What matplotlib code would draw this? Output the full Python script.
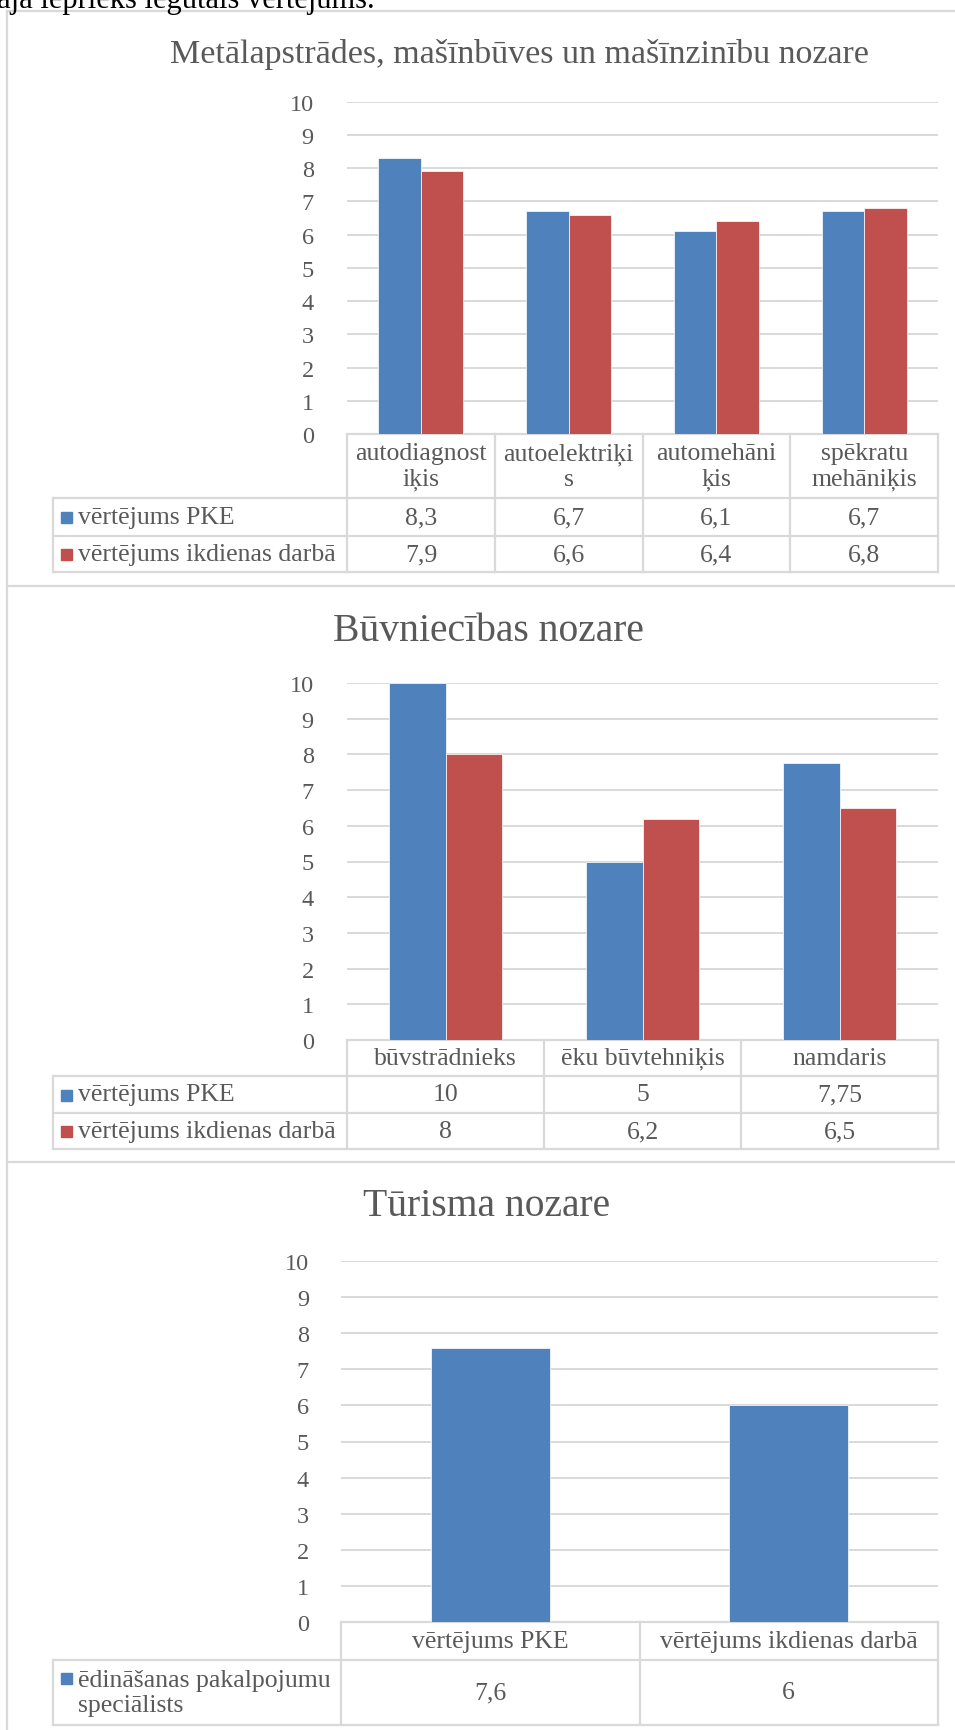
import matplotlib
matplotlib.use("Agg")
import matplotlib.pyplot as plt
import numpy as np

plt.rcParams["font.family"] = ["Liberation Serif", "DejaVu Serif"]

# ---- data ----
metal_categories = ["autodiagnost\niķis", "autoelektriķi\ns", "automehāni\nķis", "spēkratu\nmehāniķis"]
metal_pke = [8.3, 6.7, 6.1, 6.7]
metal_daily = [7.9, 6.6, 6.4, 6.8]

build_categories = ["būvstrādnieks", "ēku būvtehniķis", "namdaris"]
build_pke = [10, 5, 7.75]
build_daily = [8, 6.2, 6.5]

tour_categories = ["vērtējums PKE", "vērtējums ikdienas darbā"]
tour_values = [7.6, 6]

series_two = ["vērtējums PKE", "vērtējums ikdienas darbā"]
series_tour = ["ēdināšanas pakalpojumu\nspeciālists"]

BLUE = "#4F81BD"
RED = "#C0504D"
GRID = "#D9D9D9"
TEXT = "#595959"

W, H = 955, 1731
fig = plt.figure(figsize=(W / 100, H / 100), dpi=100)

# overlay in pixel coordinates for frames / tables / text
ov = fig.add_axes([0, 0, 1, 1])
ov.set_xlim(0, W)
ov.set_ylim(H, 0)
ov.axis("off")


def fmt(v):
    return f"{v:g}".replace(".", ",")


def add_plot(left, right, top, bottom):
    return fig.add_axes([left / W, 1 - bottom / H, (right - left) / W, (bottom - top) / H])


def draw_chart(title, title_x, title_y, title_size, categories, series, colors,
               left, right, y10, y0, rows, label_right, bar_width):
    n = len(categories)
    ax = add_plot(left, right, y10, y0)
    ax.patch.set_alpha(0)
    x = np.arange(n)
    k = len(series)
    for i, (vals, c) in enumerate(zip(series.values(), colors)):
        off = (i - (k - 1) / 2) * bar_width
        ax.bar(x + off, vals, width=bar_width, color=c, edgecolor="white", linewidth=0.5, zorder=3)
    ax.set_xlim(-0.5, n - 0.5)
    ax.set_ylim(0, 10)
    ax.set_yticks(range(11))
    ax.set_xticks([])
    ax.tick_params(axis="y", length=0, pad=left - label_right, labelsize=17.5, labelcolor=TEXT)
    ax.grid(axis="y", color=GRID, linewidth=1.4, zorder=0)
    for s in ["top", "right", "left"]:
        ax.spines[s].set_visible(False)
    ax.spines["bottom"].set_color(GRID)
    ax.spines["bottom"].set_linewidth(1.6)

    ov.text(title_x, title_y, title, ha="left", va="center", fontsize=title_size, color=TEXT)

    # data table below the plot
    cols = np.linspace(left, right, n + 1)
    leg_left = 53
    lw = 1.6
    for y in rows[1:]:
        ov.plot([leg_left, right], [y, y], color=GRID, lw=lw)
    ov.plot([leg_left, leg_left], [rows[1], rows[-1]], color=GRID, lw=lw)
    for cx in cols:
        ov.plot([cx, cx], [rows[0], rows[-1]], color=GRID, lw=lw)
    for j, cat in enumerate(categories):
        ov.text((cols[j] + cols[j + 1]) / 2, (rows[0] + rows[1]) / 2, cat, ha="center", va="center",
                fontsize=18.5, color=TEXT, linespacing=1.2)
    for r, ((name, vals), c) in enumerate(zip(series.items(), colors)):
        yc = (rows[r + 1] + rows[r + 2]) / 2
        lines = name.split("\n")
        first = yc - (len(lines) - 1) * 14
        ov.add_patch(plt.Rectangle((61, first - 5), 11, 11, color=c))
        ov.text(78, yc, name, ha="left", va="center", fontsize=18.5, color=TEXT, linespacing=1.2)
        for j, v in enumerate(vals):
            ov.text((cols[j] + cols[j + 1]) / 2, yc, fmt(v), ha="center", va="center",
                    fontsize=18.5, color=TEXT)


# frames
ov.plot([7, 7], [12, H], color=GRID, lw=1.6)
ov.plot([7, W], [12, 12], color=GRID, lw=1.6)
ov.plot([7, W], [587, 587], color=GRID, lw=1.6)
ov.plot([7, W], [1163, 1163], color=GRID, lw=1.6)

# cut off document text at the top
ov.text(-3, 8, "aja iepriekš iegūtais vērtējums.", ha="left", va="baseline", fontsize=22, color="black")

draw_chart("Metālapstrādes, mašīnbūves un mašīnzinību nozare", 170, 55, 24.5,
           metal_categories, dict(zip(series_two, [metal_pke, metal_daily])), [BLUE, RED],
           347, 938, 102.7, 435, [435, 499, 537, 573], 323, 0.287)

draw_chart("Būvniecības nozare", 333, 632, 28.5,
           build_categories, dict(zip(series_two, [build_pke, build_daily])), [BLUE, RED],
           347, 938, 684, 1041, [1041, 1077, 1114, 1150], 323, 0.287)

draw_chart("Tūrisma nozare", 363, 1207, 28.5,
           tour_categories, dict(zip(series_tour, [tour_values])), [BLUE],
           341, 938, 1262, 1623, [1623, 1661, 1726], 318, 0.4)

fig.savefig("out.png", dpi=100)
